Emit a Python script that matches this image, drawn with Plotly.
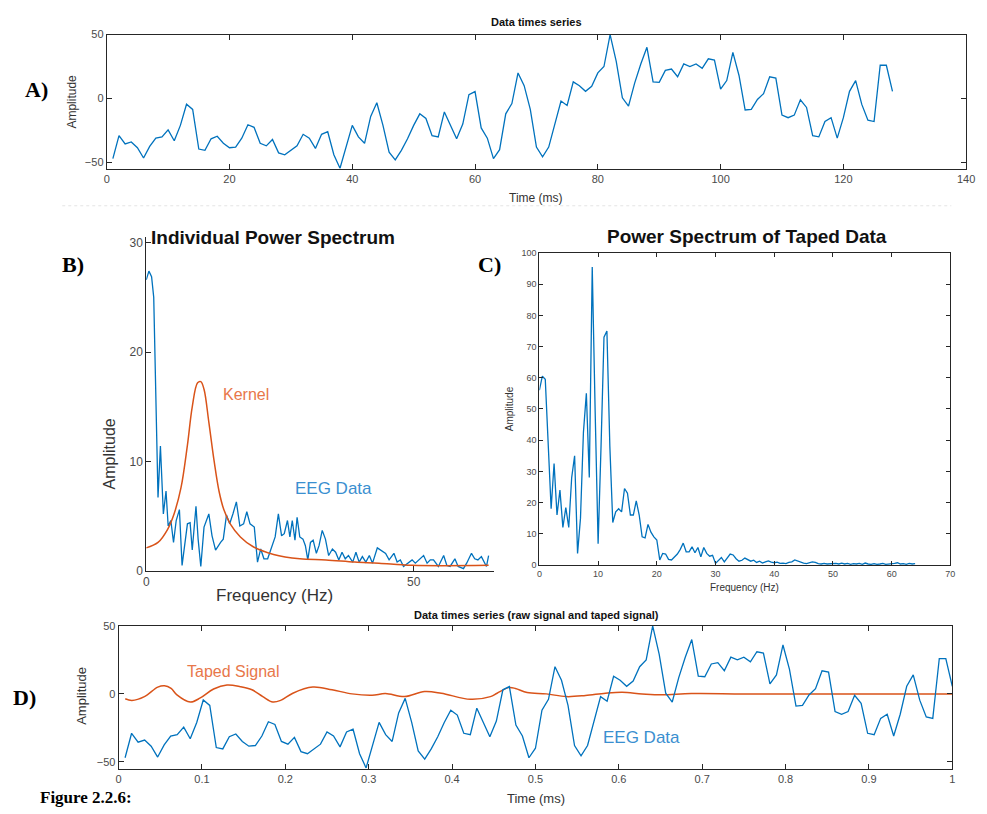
import plotly.graph_objects as go

W, H = 987, 814

# ---------------- DATA ----------------
eeg_t = list(range(1, 129))
eeg_amp = [
    -47, -29, -35.5, -34, -38.5, -46.5, -37.5, -31, -30, -24.5,
    -33, -21, -4.5, -8.5, -39.5, -40.5, -31.5, -29.5, -35, -38.5,
    -38, -31, -20.5, -22.5, -35, -37, -32, -42.5, -44, -40.5,
    -37, -28, -31, -39, -28, -26, -44, -54.5, -38, -21,
    -30, -35, -14, -3.3, -21, -42, -48, -40.5, -31.5, -21,
    -12, -15.6, -29, -30, -10.5, -21, -31.5, -20, 3, 5.4,
    -23, -31, -47, -40, -12, -4, 20, 10, -8.5, -38,
    -45.6, -38, -21, -2, -5.4, 13, 10, 5.6, 9.5, 20,
    25, 50, 29, 0.5, -6, 12, 27, 40, 13, 12.6,
    22, 23, 17, 27, 25, 27, 23.6, 31, 30, 7.4,
    14, 36, 18, -9, -8.5, -0.8, 3.8, 17, 16, -13,
    -15, -13, -1, -7, -29, -30, -18, -15, -31, -15,
    5.6, 14, -4.6, -17, -18, 26, 26, 5.6,
]
eeg_time_norm = [t / 128 for t in eeg_t]

taped_t = [0.008, 0.016, 0.031, 0.047, 0.055, 0.063, 0.070, 0.086, 0.098, 0.114,
           0.130, 0.146, 0.160, 0.173, 0.185, 0.195, 0.209, 0.233, 0.256, 0.280,
           0.304, 0.320, 0.343, 0.367, 0.387, 0.422, 0.446, 0.454, 0.468, 0.476,
           0.490, 0.513, 0.537, 0.560, 0.584, 0.604, 0.628, 0.651, 0.687, 0.750,
           0.850, 1.000]
taped_v = [-3.6, -4.8, -2, 5, 6, 4, -0.7, -6, -3, 3.6,
           6.5, 5.3, 3, -2, -6, -4.6, 0.5, 5, 3, 0,
           -1, 0.2, -2, 1.7, 0.5, -4, -2, 0.5, 4.6, 4,
           1, 0, -2, -1.2, 0.5, 1.2, 0, -0.7, 0.2, 0,
           0, 0]

spec_f = [0, 0.5, 1.0, 1.4, 2.2, 2.65, 3.2, 3.7, 4.1, 4.6, 5.1, 5.6, 6.2, 6.7,
          7.7, 8.2, 8.6, 9.3, 9.7, 10.2, 10.8, 11.7, 12.3, 12.96, 13.9, 14.4,
          15.0, 15.6, 16.2, 16.85, 17.5, 18.2, 18.8, 19.4, 20.2, 20.8, 21.4,
          22.0, 22.7, 23.5, 24.1, 24.7, 25.3, 25.8, 26.4, 26.85, 27.3, 27.8,
          28.2, 28.7, 29.3, 29.75, 30.2, 30.7, 31.2, 31.8, 32.3, 32.9, 33.5,
          34.1, 34.8, 35.4, 36.0, 36.6, 37.2, 37.8, 38.6, 39.2, 39.8, 40.4,
          41.05, 41.7, 42.3, 43.2, 44.75, 45.4, 46.3, 46.9, 47.5, 48.1, 49.1,
          49.7, 50.3, 50.9, 51.85, 52.5, 53.1, 53.7, 54.6, 55.6, 56.2, 56.8,
          57.7, 58.3, 59.3, 59.9, 60.8, 61.4, 62.0, 62.65, 63.6, 64.0]
spec_v = [26.6, 27.4, 26.9, 25.0, 6.7, 11.4, 5.2, 7.3, 4.1, 4.6, 2.6, 4.6, 5.6, 0.5,
          4.3, 4.4, 1.9, 5.9, 2.9, 0.4, 4.0, 5.2, 3.2, 1.9, 2.6, 2.9,
          5.1, 4.3, 5.2, 6.3, 4.1, 4.3, 5.4, 4.3, 4.0, 0.8, 2.0,
          1.1, 1.1, 2.2, 3.1, 5.2, 3.2, 3.4, 4.6, 3.1, 4.6, 2.8,
          4.9, 3.1, 2.9, 2.3, 1.0, 2.6, 2.8, 1.6, 2.3, 3.7, 2.9,
          1.4, 2.0, 1.7, 1.0, 1.7, 1.1, 1.4, 0.8, 1.7, 0.8, 1.3,
          0.8, 1.4, 0.7, 2.1, 1.6, 1.0, 1.6, 0.8, 1.0, 0.4, 0.8,
          1.0, 0.7, 1.0, 1.4, 0.7, 1.0, 1.0, 0.4, 1.4, 0.5, 0.4,
          1.1, 0.4, 0.2, 0.7, 1.6, 1.1, 1.0, 1.3, 0.4, 1.4]

kernel_f = [0, 2.2, 4, 5.2, 6.5, 7.7, 8.6, 9.6, 10.2, 10.8, 11.7, 12.7, 13.6, 14.5,
            15.7, 17.6, 20, 23.8, 28.7, 33.6, 39, 43.5, 49.7, 64]
kernel_v = [2.1, 2.6, 3.8, 5.2, 7.6, 11.5, 15, 17.2, 17.3, 16.6, 13.6, 10, 7.3, 5.6,
            4.3, 3.1, 2.2, 1.5, 1.1, 1.0, 0.8, 0.7, 0.5, 0.5]

taped_spec_f = [i * 0.5 for i in range(129)]
taped_spec_v = [
    56, 60.5, 59.5, 39, 18, 32.5, 16, 24, 12, 18.4,
    12, 28, 35, 3.7, 15, 42.5, 55, 28, 95.5, 49,
    6.8, 38, 73, 75, 38, 13.6, 17, 18, 17, 24.5,
    23, 16, 16, 20.5, 16, 9, 8.7, 13, 10.5, 9,
    8, 1.6, 3.7, 3.5, 1.8, 1.6, 2.6, 3.5, 5, 7,
    4.2, 4.2, 5.8, 3.9, 5.6, 2.6, 5.6, 3.7, 2.8, 3.1,
    0.5, 1.6, 2.4, 1, 2.4, 3.5, 3.2, 2.0, 1.2, 1.5,
    2.2, 1.8, 1.2, 1.5, 0.8, 1.2, 0.6, 1.0, 1.3, 0.9,
    0.7, 0.9, 0.5, 0.6, 0.4, 0.8, 1.0, 1.6, 1.2, 0.9,
    0.6, 0.4, 0.6, 1.0, 0.8, 0.4, 0.3, 0.5, 0.3, 0.4,
    0.3, 0.5, 0.3, 0.6, 0.3, 0.5, 0.2, 0.4, 0.3, 0.5,
    0.2, 0.6, 0.3, 0.2, 0.4, 0.2, 0.3, 0.5, 0.2, 0.3,
    0.2, 0.5, 0.7, 0.3, 0.4, 0.2, 0.5, 0.3, 0.4,
]

ticks_A_x = [0, 20, 40, 60, 80, 100, 120, 140]
ticks_amp = [-50, 0, 50]
ticks_B_x = [0, 50]
ticks_B_y = [0, 10, 20, 30]
ticks_C_x = [0, 10, 20, 30, 40, 50, 60, 70]
ticks_C_y = [0, 10, 20, 30, 40, 50, 60, 70, 80, 90, 100]
ticks_D_x = [0, 0.1, 0.2, 0.3, 0.4, 0.5, 0.6, 0.7, 0.8, 0.9, 1]

# ---------------- STYLE ----------------
BLUE = "#0072BD"
ORANGE = "#D95319"
ORANGE_TXT = "#E8774A"
AX = "#262626"
TICKC = "#4a4a4a"
SANS = "Liberation Sans, Arial, sans-serif"
SERIF = "Liberation Serif, Times New Roman, serif"


def px(p):
    return p / W


def py(p):
    return 1 - p / H


fig = go.Figure()
fig.add_trace(go.Scatter(x=eeg_t, y=eeg_amp, mode="lines", line=dict(color=BLUE, width=1.3),
                         xaxis="x", yaxis="y", showlegend=False))
fig.add_trace(go.Scatter(x=spec_f, y=spec_v, mode="lines", line=dict(color=BLUE, width=1.3),
                         xaxis="x2", yaxis="y2", showlegend=False))
fig.add_trace(go.Scatter(x=kernel_f, y=kernel_v, mode="lines", line=dict(color=ORANGE, width=1.5, shape="spline"),
                         xaxis="x2", yaxis="y2", showlegend=False))
fig.add_trace(go.Scatter(x=taped_spec_f, y=taped_spec_v, mode="lines", line=dict(color=BLUE, width=1.3),
                         xaxis="x3", yaxis="y3", showlegend=False))
fig.add_trace(go.Scatter(x=taped_t, y=taped_v, mode="lines", line=dict(color=ORANGE, width=1.5, shape="spline"),
                         xaxis="x4", yaxis="y4", showlegend=False))
fig.add_trace(go.Scatter(x=eeg_time_norm, y=eeg_amp, mode="lines", line=dict(color=BLUE, width=1.3),
                         xaxis="x4", yaxis="y4", showlegend=False))


def axis(domain, rng, tickvals, anchor, mirror=True, fs=11, ticklen=5):
    return dict(domain=domain, range=rng, tickvals=tickvals, anchor=anchor,
                showline=True, linecolor=AX, linewidth=1,
                mirror="ticks" if mirror else False,
                ticks="inside", ticklen=ticklen, tickcolor=AX, tickwidth=1,
                showgrid=False, zeroline=False,
                tickfont=dict(family=SANS, size=fs, color=TICKC))


fig.update_layout(
    width=W, height=H, margin=dict(l=0, r=0, t=0, b=0),
    paper_bgcolor="white", plot_bgcolor="white",
    xaxis=axis([px(105), px(975)], [0, 140], ticks_A_x, "y"),
    yaxis=axis([py(165.5), py(29)], [-55, 50], ticks_amp, "x"),
    xaxis2=axis([px(145), px(497)], [0, 65], ticks_B_x, "y2", mirror=False, fs=12),
    yaxis2=axis([py(574), py(235)], [0, 30.5], ticks_B_y, "x2", mirror=False, fs=12),
    xaxis3=axis([px(543), px(959)], [0, 70], ticks_C_x, "y3", fs=9, ticklen=4),
    yaxis3=axis([py(568), py(251)], [0, 100], ticks_C_y, "x3", fs=9, ticklen=4),
    xaxis4=axis([px(117), px(961)], [0, 1], ticks_D_x, "y4"),
    yaxis4=axis([py(775), py(630)], [-55, 50], ticks_amp, "x4"),
)


def ann(text, x, y, size, color="#111", family=SANS, bold=False, angle=0, xanchor="center",
        yanchor="middle", pad=1):
    t = f"<b>{text}</b>" if bold else text
    fig.add_annotation(text=t, x=px(x), y=py(y), xref="paper", yref="paper", showarrow=False,
                       font=dict(family=family, size=size, color=color), textangle=angle,
                       xanchor=xanchor, yanchor=yanchor, borderpad=pad)


# titles
ann("Data times series", 540, 16, 11, bold=True)
ann("Individual Power Spectrum", 273, 235, 19, bold=True)
ann("Power Spectrum of Taped Data", 753, 234, 19, bold=True)
ann("Data times series (raw signal and taped signal)", 540, 619, 11, bold=True)

# axis titles
ann("Amplitude", 70, 97, 12, color="#333", angle=-90)
ann("Time (ms)", 540, 195, 12, color="#333")
ann("Amplitude", 108, 455, 16, color="#333", angle=-90)
ann("Frequency (Hz)", 275, 599, 17, color="#333")
ann("Amplitude", 513, 409, 10, color="#333", angle=-90)
ann("Frequency (Hz)", 751, 591, 10, color="#333")
ann("Amplitude", 80, 701, 13, color="#333", angle=-90)
ann("Time (ms)", 540, 805, 13, color="#333")

# in-plot labels
ann("Kernel", 246, 395, 16, color=ORANGE_TXT)
ann("EEG Data", 335, 490, 17, color="#3A8FD0")
ann("Taped Signal", 233, 676, 16, color=ORANGE_TXT)
ann("EEG Data", 646, 743, 17, color="#3A8FD0")

# panel letters
ann("A)", 34, 85, 22, color="#000", family=SERIF, bold=True)
ann("B)", 71, 263, 22, color="#000", family=SERIF, bold=True)
ann("C)", 492, 263, 22, color="#000", family=SERIF, bold=True)
ann("D)", 22, 703, 22, color="#000", family=SERIF, bold=True)
ann("Figure 2.2.6:", 36, 815, 17, color="#000", family=SERIF, bold=True, xanchor="left",
    yanchor="bottom", pad=0)

# faint dashed separator
fig.add_shape(type="line", xref="paper", yref="paper", x0=px(60), x1=px(960), y0=py(203), y1=py(203),
              line=dict(color="#e4e4e4", width=1, dash="dot"))

fig.write_html("out.html")
